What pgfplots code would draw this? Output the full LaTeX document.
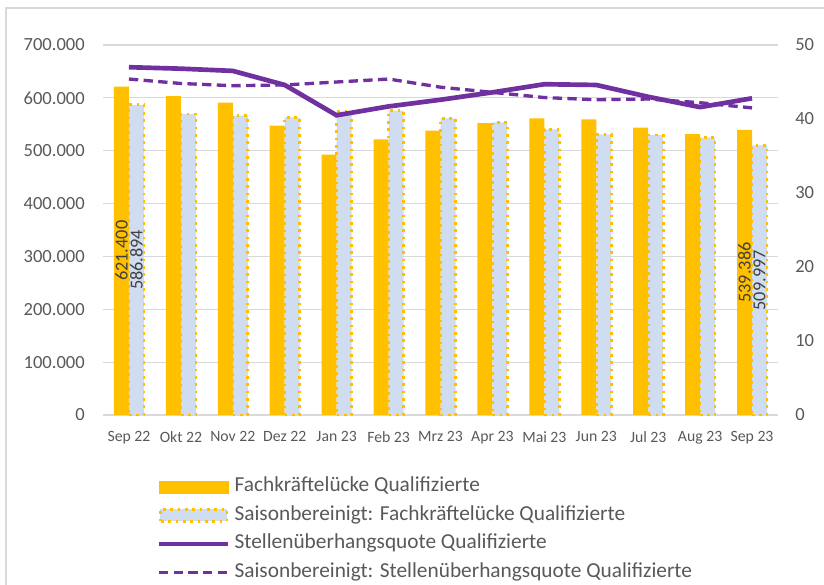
\documentclass[border=0pt]{standalone}
\usepackage{fontspec}
\setmainfont{Carlito}
\usepackage{pgfplots}
\pgfplotsset{compat=1.18}
\usepackage{pgfplotstable}
\definecolor{gold}{HTML}{FFC000}
\definecolor{lblue}{HTML}{D0DCF0}
\definecolor{purp}{HTML}{7030A0}
\definecolor{txt}{HTML}{595959}
\definecolor{lab}{HTML}{404040}
\definecolor{gridc}{HTML}{D9D9D9}

\pgfplotstableread{
x fk sfk sq ssq
0 621400 586894 47.0 45.4
1 603500 569400 46.8 44.8
2 590900 566300 46.5 44.5
3 547300 563200 44.6 44.6
4 492500 573800 40.5 45.0
5 521500 575700 41.7 45.4
6 537900 561300 42.6 44.3
7 552000 553400 43.6 43.6
8 561300 540400 44.7 42.9
9 559400 531000 44.6 42.6
10 543500 529700 43.0 42.7
11 531600 524600 41.6 42.2
12 539386 509997 42.8 41.5
}\data

\pgfplotstableread{
x y lab
-0.1445 310700 621.400
0.1445 293447 586.894
11.8555 269693 539.386
12.1445 254999 509.997
}\labels

\begin{document}
\begin{tikzpicture}[x=1pt,y=1pt]
\useasboundingbox (0,0) rectangle (618,438.75);
\draw[color=gridc, line width=0.9pt] (4.5,0) -- (4.5,432.75) -- (618,432.75);

\begin{axis}[
  at={(77.25pt,127.5pt)}, anchor=south west,
  width=506.25pt, height=277.5pt, scale only axis,
  xmin=-0.5, xmax=12.5, ymin=0, ymax=700000,
  xtick={0,...,12},
  xticklabels={Sep 22,Okt 22,Nov 22,Dez 22,Jan 23,Feb 23,Mrz 23,Apr 23,Mai 23,Jun 23,Jul 23,Aug 23,Sep 23},
  ytick={0,100000,...,700000},
  scaled y ticks=false,
  /pgf/number format/fixed,
  /pgf/number format/1000 sep={.},
  /pgf/number format/assume math mode=true,
  ymajorgrids, grid style={gridc, line width=0.9pt},
  axis x line*=bottom, axis y line*=left,
  x axis line style={gridc, line width=0.9pt, -},
  y axis line style={draw=none},
  major tick length=0pt,
  yticklabel style={color=txt, font=\fontsize{13.9}{16}\selectfont, inner xsep=0pt, xshift=-13.5pt},
  xticklabel style={color=txt, font=\fontsize{11.8}{14}\selectfont, inner ysep=0pt, yshift=-12pt},
  clip=false,
]
\addplot[ybar, bar width=0.289, bar shift=-0.1445, fill=gold, draw=none] table[x=x,y=fk]{\data};
\addplot[ybar, bar width=0.289, bar shift=0.1445, fill=lblue, draw=gold, line width=2pt, dash pattern=on 2pt off 3.5pt] table[x=x,y=sfk]{\data};
\addplot[draw=none, mark=none, nodes near coords, point meta=explicit symbolic,
  nodes near coords style={rotate=90, anchor=center, text=lab, font=\fontsize{13.7}{16}\selectfont, inner sep=0pt}]
  table[x=x,y=y,meta=lab]{\labels};
\end{axis}

\begin{axis}[
  at={(77.25pt,127.5pt)}, anchor=south west,
  width=506.25pt, height=277.5pt, scale only axis,
  xmin=-0.5, xmax=12.5, ymin=0, ymax=50,
  ytick={0,10,...,50},
  hide x axis,
  axis y line*=right,
  y axis line style={draw=none},
  major tick length=0pt,
  /pgf/number format/assume math mode=true,
  yticklabel style={color=txt, font=\fontsize{13.9}{16}\selectfont, inner xsep=0pt, xshift=12.75pt},
  legend style={at={(0.079,-0.155)}, anchor=north west, draw=none, fill=none, inner sep=0pt,
    font=\fontsize{16}{19}\selectfont, text=txt, row sep=0pt,
    nodes={text height=11.5pt, text depth=4pt, inner ysep=2.95pt, inner xsep=3pt}},
  legend cell align=left,
  clip=false,
]
\addlegendimage{legend image code/.code={\fill[gold] (0pt,-4.5pt) rectangle (52pt,4.5pt);}}
\addlegendentry{Fachkräftelücke Qualifizierte}
\addlegendimage{legend image code/.code={\draw[fill=lblue, draw=gold, line width=2pt, dash pattern=on 2pt off 3.5pt] (1pt,-4.5pt) rectangle (51pt,4.5pt);}}
\addlegendentry{Saisonbereinigt: Fachkräftelücke Qualifizierte}
\addplot[purp, line width=3.5pt, line join=round, mark=none,
  legend image code/.code={\draw (0pt,0pt) -- (52pt,0pt);}] table[x=x,y=sq]{\data};
\addlegendentry{Stellenüberhangsquote Qualifizierte}
\addplot[purp, line width=2.5pt, dash pattern=on 7pt off 4pt, mark=none,
  legend image code/.code={\draw (0pt,0pt) -- (52pt,0pt);}] table[x=x,y=ssq]{\data};
\addlegendentry{Saisonbereinigt: Stellenüberhangsquote Qualifizierte}
\end{axis}
\end{tikzpicture}
\end{document}
